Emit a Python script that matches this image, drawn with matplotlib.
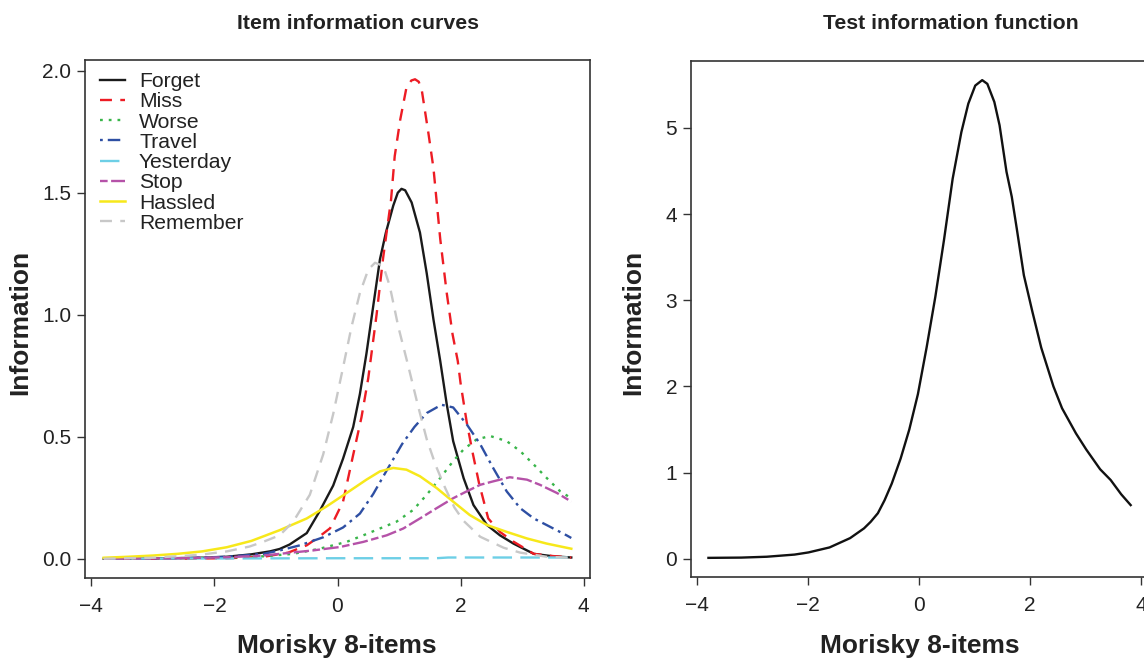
import matplotlib
matplotlib.use("Agg")
import matplotlib.pyplot as plt

plt.rcParams['font.family'] = ['Liberation Sans', 'DejaVu Sans']
plt.rcParams['lines.scale_dashes'] = False

# ---------------- data ----------------
forget_x = [-3.8, -3.0, -2.2, -1.8, -1.4, -1.1, -0.94, -0.78, -0.5, -0.29, -0.07, 0.09, 0.255, 0.364, 0.47,
            0.58, 0.69, 0.787, 0.906, 0.98, 1.04, 1.1, 1.205, 1.34, 1.45, 1.56, 1.67, 1.775, 1.88, 2.05,
            2.21, 2.43, 2.64, 2.86, 3.19, 3.5, 3.8]
forget_y = [0.0, 0.001, 0.004, 0.008, 0.018, 0.03, 0.04, 0.058, 0.105, 0.195, 0.30, 0.41, 0.54, 0.675, 0.84,
            1.034, 1.227, 1.337, 1.447, 1.50, 1.516, 1.51, 1.46, 1.337, 1.17, 0.98, 0.81, 0.634, 0.482, 0.33,
            0.22, 0.138, 0.096, 0.062, 0.02, 0.01, 0.005]

miss_x = [-3.8, -2.6, -1.8, -1.2, -0.8, -0.5, -0.3, -0.12, 0.09, 0.25, 0.39, 0.5, 0.635, 0.74, 0.87, 0.93,
          1.02, 1.12, 1.2, 1.26, 1.32, 1.37, 1.48, 1.56, 1.67, 1.775, 1.87, 1.955, 2.0, 2.1, 2.2, 2.3,
          2.45, 2.64, 2.86, 3.19, 3.5, 3.8]
miss_y = [0.0, 0.0, 0.002, 0.008, 0.025, 0.055, 0.09, 0.125, 0.234, 0.42, 0.58, 0.74, 1.0, 1.23, 1.47, 1.65,
          1.80, 1.93, 1.96, 1.965, 1.955, 1.92, 1.74, 1.6, 1.31, 1.09, 0.92, 0.81, 0.72, 0.56, 0.43, 0.31,
          0.165, 0.11, 0.07, 0.02, 0.011, 0.005]

worse_x = [-3.8, -2.6, -1.8, -1.2, -0.72, -0.29, 0.147, 0.42, 0.69, 0.96, 1.23, 1.45, 1.67, 1.88, 2.05,
           2.26, 2.48, 2.75, 2.97, 3.19, 3.4, 3.62, 3.8]
worse_y = [0.0, 0.002, 0.005, 0.01, 0.02, 0.041, 0.069, 0.096, 0.124, 0.152, 0.2, 0.262, 0.331, 0.40, 0.448,
           0.489, 0.503, 0.482, 0.441, 0.386, 0.331, 0.276, 0.248]

travel_x = [-3.8, -2.6, -1.8, -1.2, -0.94, -0.61, -0.23, 0.09, 0.364, 0.58, 0.8, 1.05, 1.25, 1.45, 1.69,
            1.88, 2.1, 2.32, 2.53, 2.75, 2.97, 3.19, 3.4, 3.73, 3.8]
travel_y = [0.0, 0.002, 0.008, 0.02, 0.034, 0.055, 0.088, 0.128, 0.185, 0.265, 0.362, 0.47, 0.54, 0.597, 0.631,
            0.62, 0.551, 0.469, 0.372, 0.276, 0.207, 0.165, 0.138, 0.095, 0.085]

yesterday_x = [-3.8, -2.0, 0.0, 1.6, 1.8, 2.5, 3.8]
yesterday_y = [0.001, 0.001, 0.002, 0.002, 0.005, 0.005, 0.005]

stop_x = [-3.8, -2.6, -1.8, -1.2, -0.94, -0.4, 0.04, 0.42, 0.8, 1.07, 1.34, 1.61, 1.88, 2.1, 2.32, 2.53,
          2.8, 3.08, 3.29, 3.57, 3.8]
stop_y = [0.0, 0.002, 0.006, 0.013, 0.02, 0.034, 0.048, 0.069, 0.096, 0.124, 0.165, 0.207, 0.248, 0.276, 0.303,
          0.317, 0.334, 0.324, 0.303, 0.269, 0.234]

hassled_x = [-3.8, -3.4, -3.0, -2.6, -2.2, -1.8, -1.4, -0.94, -0.5, -0.18, 0.147, 0.47, 0.69, 0.906, 1.12,
             1.34, 1.61, 1.88, 2.15, 2.43, 2.75, 3.08, 3.4, 3.8]
hassled_y = [0.004, 0.008, 0.013, 0.02, 0.03, 0.047, 0.073, 0.117, 0.165, 0.214, 0.269, 0.324, 0.358, 0.372, 0.365,
             0.338, 0.29, 0.234, 0.179, 0.138, 0.11, 0.083, 0.062, 0.041]

remember_x = [-3.8, -3.0, -2.24, -1.8, -1.43, -1.2, -0.94, -0.72, -0.45, -0.233, -0.07, 0.092, 0.228, 0.364,
              0.5, 0.61, 0.744, 0.85, 0.988, 1.15, 1.3, 1.45, 1.6, 1.75, 1.9, 2.05, 2.32, 2.7, 2.97, 3.4, 3.8]
remember_y = [0.0, 0.004, 0.016, 0.03, 0.05, 0.07, 0.096, 0.152, 0.262, 0.427, 0.593, 0.786, 0.951, 1.089,
              1.185, 1.213, 1.2, 1.117, 0.951, 0.79, 0.635, 0.49, 0.38, 0.29, 0.21, 0.155, 0.09, 0.045, 0.025,
              0.008, 0.004]

test_x = [-3.79, -3.2, -2.74, -2.24, -1.99, -1.61, -1.24, -0.99, -0.87, -0.74, -0.62, -0.49, -0.33, -0.175,
          -0.02, 0.1375, 0.294, 0.45, 0.606, 0.7625, 0.8875, 1.0125, 1.1375, 1.23, 1.356, 1.45, 1.575, 1.67,
          1.76, 1.8875, 2.04, 2.2, 2.42, 2.575, 2.825, 3.01, 3.26, 3.45, 3.64, 3.81]
test_y = [0.012, 0.015, 0.025, 0.05, 0.075, 0.133, 0.241, 0.354, 0.43, 0.53, 0.68, 0.874, 1.165, 1.5,
          1.91, 2.454, 3.04, 3.70, 4.41, 4.95, 5.28, 5.49, 5.553, 5.51, 5.30, 5.03, 4.49, 4.20,
          3.83, 3.29, 2.87, 2.45, 2.0, 1.747, 1.456, 1.269, 1.04, 0.915, 0.749, 0.624]

item_names = ["Forget", "Miss", "Worse", "Travel", "Yesterday", "Stop", "Hassled", "Remember"]
x_ticks = [-4, -2, 0, 2, 4]
left_y_ticks = [0.0, 0.5, 1.0, 1.5, 2.0]
right_y_ticks = [0, 1, 2, 3, 4, 5]

# ---------------- styling ----------------
series = [
    (forget_x, forget_y, '#1a1a1a', 1.7, '-'),
    (miss_x, miss_y, '#ED1C24', 1.7, (0, (8.6, 6.0))),
    (worse_x, worse_y, '#39B54A', 1.7, (0, (2.0, 4.3))),
    (travel_x, travel_y, '#2E4FA3', 1.7, (0, (2.0, 3.6, 9.0, 3.6))),
    (yesterday_x, yesterday_y, '#6DCFE6', 1.7, (0, (14.0, 6.0))),
    (stop_x, stop_y, '#B552A8', 1.7, (0, (5.5, 2.5, 11.0, 2.5))),
    (hassled_x, hassled_y, '#F7E81A', 1.8, '-'),
    (remember_x, remember_y, '#C8C8C8', 1.7, (0, (8.6, 6.0))),
]

W, H = 1144, 660
fig = plt.figure(figsize=(W / 100, H / 100), dpi=100)

def px_rect(left, right, top, bottom):
    return [left / W, 1 - bottom / H, (right - left) / W, (bottom - top) / H]

ax1 = fig.add_axes(px_rect(85, 590, 60, 578))
ax2 = fig.add_axes(px_rect(691, 1147, 61, 577))

for (xs, ys, c, lw, ls), name in zip(series, item_names):
    ax1.plot(xs, ys, color=c, lw=lw, linestyle=ls, label=name)

ax2.plot(test_x, test_y, color='#111111', lw=1.7)

for ax in (ax1, ax2):
    ax.set_xlim(-4.104, 4.104)
    ax.set_xticks(x_ticks)
    ax.set_xticklabels([str(t).replace('-', '\u2212') for t in x_ticks])
    for s in ax.spines.values():
        s.set_color('#333333')
        s.set_linewidth(1.2)
    ax.tick_params(direction='out', length=6, width=1.0, color='#333333',
                   labelsize=15, labelcolor='#222222', pad=4)
    ax.tick_params(axis='x', pad=8)

ax1.set_ylim(-0.079, 2.044)
ax1.set_yticks(left_y_ticks)
ax1.set_yticklabels([f"{v:.1f}" for v in left_y_ticks])
ax2.set_ylim(-0.21, 5.775)
ax2.set_yticks(right_y_ticks)
ax2.set_yticklabels([str(v) for v in right_y_ticks])

leg = ax1.legend(loc='upper left', bbox_to_anchor=(15 / 505, 1 - 12 / 518), frameon=False,
                 fontsize=15.2, labelspacing=0.06, handlelength=1.2, handletextpad=0.65,
                 borderpad=0, borderaxespad=0)
for t in leg.get_texts():
    t.set_color('#222222')

# titles and axis labels
fig.text(358 / W, 1 - 29 / H, "Item information curves", ha='center', va='baseline',
         fontsize=15.3, fontweight='bold', color='#222222')
fig.text(951 / W, 1 - 29 / H, "Test information function", ha='center', va='baseline',
         fontsize=15.3, fontweight='bold', color='#222222')
fig.text(337 / W, 1 - 653 / H, "Morisky 8-items", ha='center', va='baseline',
         fontsize=19, fontweight='bold', color='#222222')
fig.text(920 / W, 1 - 653 / H, "Morisky 8-items", ha='center', va='baseline',
         fontsize=19, fontweight='bold', color='#222222')
fig.text(20 / W, 1 - 322 / H, "Information", ha='center', va='center', rotation=90,
         fontsize=19, fontweight='bold', color='#222222')
fig.text(633 / W, 1 - 322 / H, "Information", ha='center', va='center', rotation=90,
         fontsize=19, fontweight='bold', color='#222222')

fig.savefig("out.png", dpi=100)
